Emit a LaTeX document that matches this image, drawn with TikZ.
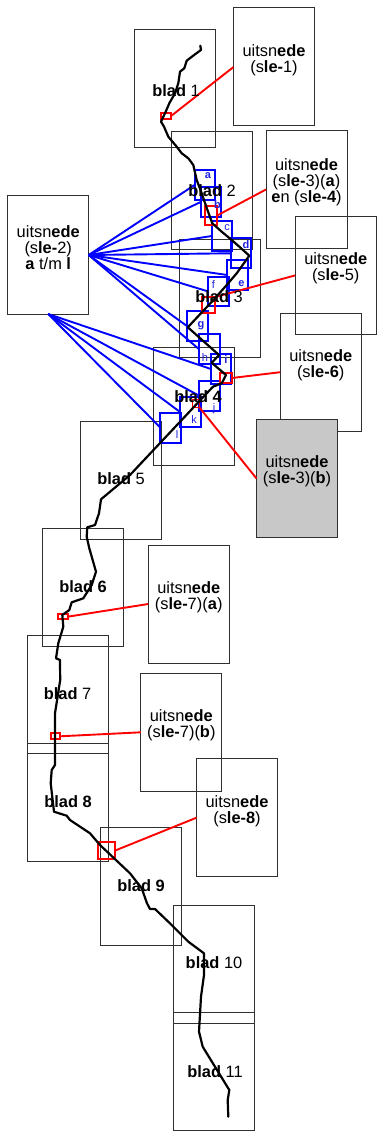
\documentclass[tikz,border=0pt]{standalone}
\usepackage{fontspec}
\setmainfont{Liberation Sans}
\definecolor{sheetline}{HTML}{303030}
\definecolor{crop}{HTML}{C8C8C8}
\definecolor{letterblue}{HTML}{2020E0}
\tikzset{
  sheet/.style={draw=sheetline,line width=1pt,minimum width=81pt,minimum height=118pt,inner sep=0pt,outer sep=0pt},
  sheettext/.style={inner sep=0pt,align=center,font=\fontsize{16.4}{16}\selectfont,text=black},
  blue box/.style={draw=blue,line width=2pt,minimum width=20.5pt,minimum height=29.7pt,inner sep=0pt,outer sep=0pt},
  letter/.style={inner sep=0pt,font=\fontsize{11}{12}\selectfont,text=letterblue},
  red box/.style={draw=red,line width=1.9pt,inner sep=0pt,outer sep=0pt},
  blue link/.style={draw=blue,line width=1.9pt},
  red link/.style={draw=red,line width=1.9pt},
  route/.style={draw=black,line width=2.2pt,line join=round,line cap=round}
}
\newcommand{\bl}{\textbf{blad}}
\newcommand{\us}{uitsn\textbf{ede}}
\begin{document}
\begin{tikzpicture}[x=1pt,y=-1pt]
\useasboundingbox (0,0) rectangle (383,1131);
% sheets
\node[sheet] (b1) at (175,88.2) {};
\node[sheet] (b2) at (211.5,191) {};
\node[sheet] (b3) at (219.5,298.3) {};
\node[sheet] (b4) at (193.5,406) {};
\node[sheet] (b5) at (120.5,480.3) {};
\node[sheet] (b6) at (82.7,587.5) {};
\node[sheet] (b7) at (67.7,694.8) {};
\node[sheet] (b8) at (67.7,802) {};
\node[sheet] (b9) at (140.8,886.6) {};
\node[sheet] (b10) at (214,964.8) {};
\node[sheet] (b11) at (214,1071.6) {};
\node[sheet] (u1) at (274,67) {};
\node[sheet] (u2) at (48.2,255) {};
\node[sheet] (u3a) at (306.5,189.5) {};
\node[sheet] (u5) at (335.7,275.4) {};
\node[sheet] (u6) at (320.7,372.2) {};
\node[sheet,fill=crop] (u3b) at (297,478.5) {};
\node[sheet] (u7a) at (188.7,604) {};
\node[sheet] (u7b) at (181.3,732.3) {};
\node[sheet] (u8) at (237,817.7) {};
% blue boxes
\node[blue box] (ca) at (204.8,185) {};
\node[blue box] (cb) at (211,202) {};
\node[blue box] (cc) at (222,236) {};
\node[blue box] (cd) at (240.8,253.3) {};
\node[blue box] (ce) at (237.5,275) {};
\node[blue box] (cf) at (218.6,291.5) {};
\node[blue box] (cg) at (197.6,326.3) {};
\node[blue box] (ch) at (209.3,349.2) {};
\node[blue box] (ci) at (221.2,369) {};
\node[blue box] (cj) at (209.6,395.8) {};
\node[blue box] (ck) at (190.7,412.3) {};
\node[blue box] (cl) at (170.7,427.7) {};
\foreach \t in {ca,cb,cc,cd,ce,cf,cg,ch}
  \draw[blue link] (u2.east) -- (\t.west);
\foreach \t in {ci,cj,ck,cl}
  \draw[blue link] (u2.south) -- (\t.west);
% red boxes and links
\node[red box,minimum width=10pt,minimum height=6pt] (r1) at (165.7,116.3) {};
\node[red box,minimum width=12pt,minimum height=19.3pt] (r3a) at (210.7,215.7) {};
\node[red box,minimum width=13.5pt,minimum height=16pt] (r5) at (208.5,305) {};
\node[red box,minimum width=12pt,minimum height=10pt] (r6) at (226,378) {};
\node[red box,minimum width=7pt,minimum height=8pt] (r3b) at (196,403.5) {};
\node[red box,minimum width=9.4pt,minimum height=5.3pt] (r7a) at (63,616.7) {};
\node[red box,minimum width=9.3pt,minimum height=6pt] (r7b) at (55.3,736.3) {};
\node[red box,minimum width=17pt,minimum height=16.7pt] (r8) at (106.2,850.7) {};
\draw[red link] (r1.east) -- (u1.west);
\draw[red link] (r3a.east) -- (u3a.west);
\draw[red link] (r5.north east) -- (u5.west);
\draw[red link] (r6.east) -- (u6.west);
\draw[red link] (r3b.south east) -- (u3b.west);
\draw[red link] (r7a.east) -- (u7a.west);
\draw[red link] (r7b.east) -- (u7b.west);
\draw[red link] (r8.east) -- (u8.west);
% route
\draw[route] (200.3,45.7) -- (201,50) -- (195,54.3) -- (186.7,60.7) -- (184.3,68.3) -- (180,71.7) -- (178.3,83.3) -- (175,93.3) -- (169.3,103.3) -- (165.7,111.7) -- (161,121.7) -- (164,126.7) -- (168.3,136.7) -- (176.7,146.7) -- (181.7,153.3) -- (188.3,158.3) -- (193.3,165) -- (196.7,180) -- (201.7,193.3) -- (206.7,208) -- (212.3,223.3) -- (221.7,231.7) -- (231.7,240) -- (240,247.3) -- (249.3,255.7) -- (236.7,273.3) -- (226.7,285) -- (215,298.3) -- (187.8,327.3) -- (219,355) -- (211.7,362.8) -- (226,375) -- (221.7,383.3) -- (213,386.7) -- (206.7,393.3) -- (181.7,420) -- (130,475) -- (101,499.3) -- (99,513.3) -- (95,525) -- (87.3,527.3) -- (86.7,536.7) -- (89.3,548.3) -- (96,571.7) -- (91.7,585) -- (83.3,598.3) -- (71.7,602.3) -- (69.3,610) -- (62.3,615) -- (63.3,626.7) -- (58.3,643.3) -- (56,658.3) -- (60,660) -- (60.2,680) -- (55,713.3) -- (55,765) -- (51.7,770) -- (50.7,783.3) -- (54,811.7) -- (66.7,815.7) -- (70,820) -- (90,833.3) -- (100,845) -- (130,873.3) -- (141.7,888.3) -- (147,903.3) -- (150,909) -- (155,909) -- (171.7,925) -- (188.3,941.7) -- (204,953.3) -- (204,975) -- (201,996.7) -- (199,1031.7) -- (202.7,1046.7) -- (229.3,1090) -- (227.7,1100) -- (228.3,1116.7);
% letters
\node[letter] (la) at (208,175.5) {\textbf{a}};
\node[letter] (lb) at (217.5,205) {\textbf{b}};
\node[letter] (lc) at (227,227.5) {c};
\node[letter] (ld) at (246,245) {\textbf{d}};
\node[letter] (le) at (241.5,284) {\textbf{e}};
\node[letter] (lf) at (213.5,285) {f};
\node[letter] (lg) at (201,326) {\textbf{g}};
\node[letter] (lh) at (205,358) {h};
\node[letter] (li) at (226,360) {\textbf{i}};
\node[letter] (lj) at (214,408.5) {j};
\node[letter] (lk) at (194,420) {k};
\node[letter] (ll) at (177,435) {l};
% sheet texts
\node[sheettext] (tb1) at (176,90.7) {\bl\ 1};
\node[sheettext] (tb2) at (212,191) {\bl\ 2};
\node[sheettext] (tb3) at (219,297) {\bl\ 3};
\node[sheettext] (tb4) at (198,396.7) {\bl\ \textbf{4}};
\node[sheettext] (tb5) at (121,479) {\bl\ 5};
\node[sheettext] (tb6) at (83,586.7) {\bl\ \textbf{6}};
\node[sheettext] (tb7) at (67.5,694) {\bl\ 7};
\node[sheettext] (tb8) at (68,801.7) {\bl\ \textbf{8}};
\node[sheettext] (tb9) at (141,886) {\bl\ \textbf{9}};
\node[sheettext] (tb10) at (214,963) {\bl\ 10};
\node[sheettext] (tb11) at (215,1071.7) {\bl\ 11};
\node[sheettext] (tu1) at (274,60) {\us\\(s\textbf{le-}1)};
\node[sheettext] (tu2) at (48.2,248) {\us\\(s\textbf{le-}2)\\\textbf{a} t/m \textbf{l}};
\node[sheettext] (tu3a) at (306.5,182.7) {\us\\(s\textbf{le-}3)(\textbf{a})\\\textbf{e}n (s\textbf{le-4})};
\node[sheettext] (tu5) at (335.7,268.5) {\us\\(s\textbf{le-}5)};
\node[sheettext] (tu6) at (320.7,365.5) {\us\\(s\textbf{le-6})};
\node[sheettext] (tu3b) at (297,471.5) {\us\\(s\textbf{le-}3)(\textbf{b})};
\node[sheettext] (tu7a) at (188.7,597) {\us\\(s\textbf{le-}7)(\textbf{a})};
\node[sheettext] (tu7b) at (181.3,725.5) {\us\\(s\textbf{le-}7)(\textbf{b})};
\node[sheettext] (tu8) at (237,811) {\us\\(s\textbf{le-8})};
\end{tikzpicture}
\end{document}
